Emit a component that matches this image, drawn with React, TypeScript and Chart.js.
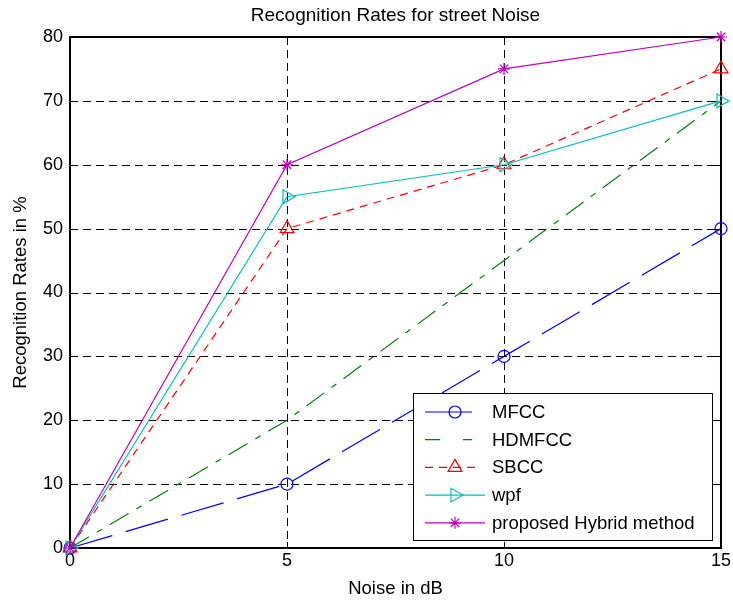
import React, { useEffect, useRef } from 'react';
import { Chart, registerables } from 'chart.js';

Chart.register(...registerables);

// ---- data ----
const noiseDb = [0, 5, 10, 15];
const mfcc = [0, 10, 30, 50];
const hdmfcc = [0, 20, 45, 70];
const sbcc = [0, 50, 60, 75];
const wpf = [0, 55, 60, 70];
const hybrid = [0, 60, 75, 80];
const seriesNames = ['MFCC', 'HDMFCC', 'SBCC', 'wpf', 'proposed Hybrid method'];
const xTickValues = [0, 5, 10, 15];
const yTickValues = [0, 10, 20, 30, 40, 50, 60, 70, 80];
const chartTitle = 'Recognition Rates for street Noise';
const xTitle = 'Noise in dB';
const yTitle = 'Recognition Rates in %';

// ---- styles ----
const FONT = "'Liberation Sans', Arial, Helvetica, sans-serif";
const seriesValues = [mfcc, hdmfcc, sbcc, wpf, hybrid];
const seriesColors = ['#0000ff', '#008000', '#ff0000', '#00bfbf', '#bf00bf'];
const seriesDash: number[][] = [[44, 14], [22, 9, 6, 9], [8, 6], [], []];
const seriesMarker = ['circle', 'circle', 'triangle', 'triangle', 'star'];
const markerRadius = [6, 0, 8, 8, 6];
const markerRotation = [0, 0, 0, 90, 0];

function drawMarker(ctx: CanvasRenderingContext2D, style: string, x: number, y: number, r: number, rot: number) {
  if (r <= 0) return;
  ctx.save();
  ctx.translate(x, y);
  ctx.rotate((rot * Math.PI) / 180);
  ctx.beginPath();
  if (style === 'circle') {
    ctx.arc(0, 0, r, 0, Math.PI * 2);
  } else if (style === 'triangle') {
    for (let k = 0; k < 3; k++) {
      const a = (k * 2 * Math.PI) / 3;
      const px = Math.sin(a) * r;
      const py = -Math.cos(a) * r;
      if (k === 0) ctx.moveTo(px, py);
      else ctx.lineTo(px, py);
    }
    ctx.closePath();
  } else if (style === 'star') {
    for (let k = 0; k < 4; k++) {
      const a = (k * Math.PI) / 4;
      ctx.moveTo(Math.cos(a) * r, Math.sin(a) * r);
      ctx.lineTo(-Math.cos(a) * r, -Math.sin(a) * r);
    }
  }
  ctx.stroke();
  ctx.restore();
}

const framePlugin = {
  id: 'matlabFrame',
  beforeDatasetsDraw(chart: any) {
    const { ctx, chartArea } = chart;
    const { left, right, top, bottom } = chartArea;
    const xs = chart.scales.x;
    const ys = chart.scales.y;
    ctx.save();
    // dashed grid
    ctx.strokeStyle = '#000';
    ctx.lineWidth = 1;
    ctx.setLineDash([8, 5]);
    xTickValues.forEach((v) => {
      const px = Math.round(xs.getPixelForValue(v)) + 0.5;
      ctx.beginPath();
      ctx.moveTo(px, top);
      ctx.lineTo(px, bottom);
      ctx.stroke();
    });
    yTickValues.forEach((v) => {
      const py = Math.round(ys.getPixelForValue(v)) + 0.5;
      ctx.beginPath();
      ctx.moveTo(left, py);
      ctx.lineTo(right, py);
      ctx.stroke();
    });
    ctx.setLineDash([]);
    // inward ticks
    const tl = 6;
    xTickValues.forEach((v) => {
      const px = Math.round(xs.getPixelForValue(v)) + 0.5;
      ctx.beginPath();
      ctx.moveTo(px, bottom);
      ctx.lineTo(px, bottom - tl);
      ctx.moveTo(px, top);
      ctx.lineTo(px, top + tl);
      ctx.stroke();
    });
    yTickValues.forEach((v) => {
      const py = Math.round(ys.getPixelForValue(v)) + 0.5;
      ctx.beginPath();
      ctx.moveTo(left, py);
      ctx.lineTo(left + tl, py);
      ctx.moveTo(right, py);
      ctx.lineTo(right - tl, py);
      ctx.stroke();
    });
    // box
    ctx.lineWidth = 2;
    ctx.strokeRect(left, top, right - left, bottom - top);
    ctx.restore();
  },
  afterDraw(chart: any) {
    const { ctx, chartArea } = chart;
    const { left, right, bottom } = chartArea;
    ctx.save();
    // title
    ctx.fillStyle = '#000';
    ctx.font = `19px ${FONT}`;
    ctx.textAlign = 'center';
    ctx.textBaseline = 'alphabetic';
    ctx.fillText(chartTitle, (left + right) / 2, 21);

    // legend
    const lw = 299;
    const lh = 147;
    const lx = right - 9 - lw;
    const ly = bottom - 8 - lh;
    ctx.fillStyle = '#fff';
    ctx.fillRect(lx, ly, lw, lh);
    ctx.strokeStyle = '#000';
    ctx.lineWidth = 1;
    ctx.strokeRect(Math.round(lx) + 0.5, Math.round(ly) + 0.5, lw, lh);
    const lineEnds = [59, 59, 67, 72, 72];
    seriesNames.forEach((name, i) => {
      const cy = ly + 19 + i * 27.7;
      ctx.strokeStyle = seriesColors[i];
      ctx.lineWidth = 1.2;
      ctx.setLineDash(i === 0 ? [] : i === 1 ? [15, 23] : seriesDash[i]);
      ctx.beginPath();
      ctx.moveTo(lx + 12, cy);
      ctx.lineTo(lx + lineEnds[i], cy);
      ctx.stroke();
      ctx.setLineDash([]);
      drawMarker(ctx, seriesMarker[i], lx + 42, cy, markerRadius[i], markerRotation[i]);
      ctx.fillStyle = '#000';
      ctx.font = `18.5px ${FONT}`;
      ctx.textAlign = 'left';
      ctx.textBaseline = 'middle';
      ctx.fillText(name, lx + 79, cy + 1);
    });
    ctx.restore();
  },
};

export default function App() {
  const ref = useRef<HTMLCanvasElement>(null);
  useEffect(() => {
    const canvas = ref.current;
    if (!canvas) return;
    Chart.defaults.font.family = FONT;
    Chart.defaults.color = '#000';
    const datasets = seriesValues.map((vals, i) => ({
      label: seriesNames[i],
      data: vals.map((v, j) => ({ x: noiseDb[j], y: v })),
      borderColor: seriesColors[i],
      backgroundColor: 'rgba(0,0,0,0)',
      borderWidth: 1.2,
      borderDash: seriesDash[i],
      pointStyle: seriesMarker[i] as any,
      pointRadius: markerRadius[i],
      pointHoverRadius: markerRadius[i],
      pointRotation: markerRotation[i],
      pointBorderColor: seriesColors[i],
      pointBackgroundColor: 'rgba(0,0,0,0)',
      pointBorderWidth: 1.2,
      tension: 0,
      fill: false,
      clip: false as any,
      order: seriesNames.length - i,
    }));
    const chart = new Chart(canvas, {
      type: 'line',
      data: { datasets },
      options: {
        animation: false,
        responsive: false,
        maintainAspectRatio: false,
        layout: { padding: { top: 37, right: 12, left: 0, bottom: 0 } },
        plugins: {
          legend: { display: false },
          title: { display: false },
          tooltip: { enabled: false },
        },
        scales: {
          x: {
            type: 'linear',
            min: 0,
            max: 15,
            ticks: { stepSize: 5, padding: 2, font: { size: 18 }, color: '#000' },
            grid: { display: false, drawTicks: false },
            border: { display: false },
            title: {
              display: true,
              text: xTitle,
              color: '#000',
              font: { size: 18.5 },
              padding: { top: 0, bottom: 3 },
            },
            afterFit: (s: any) => {
              s.height = 55;
            },
          },
          y: {
            type: 'linear',
            min: 0,
            max: 80,
            ticks: { stepSize: 10, padding: 7, font: { size: 18 }, color: '#000' },
            grid: { display: false, drawTicks: false },
            border: { display: false },
            title: {
              display: true,
              text: yTitle,
              color: '#000',
              font: { size: 18.5 },
              padding: { top: 10, bottom: 0 },
            },
            afterFit: (s: any) => {
              s.width = 70;
            },
          },
        },
      },
      plugins: [framePlugin],
    });
    return () => chart.destroy();
  }, []);
  return (
    <div style={{ position: 'fixed', left: 0, top: 0, width: 733, height: 603, background: '#fff' }}>
      <canvas ref={ref} width={733} height={603} style={{ display: 'block', width: 733, height: 603 }} />
    </div>
  );
}
